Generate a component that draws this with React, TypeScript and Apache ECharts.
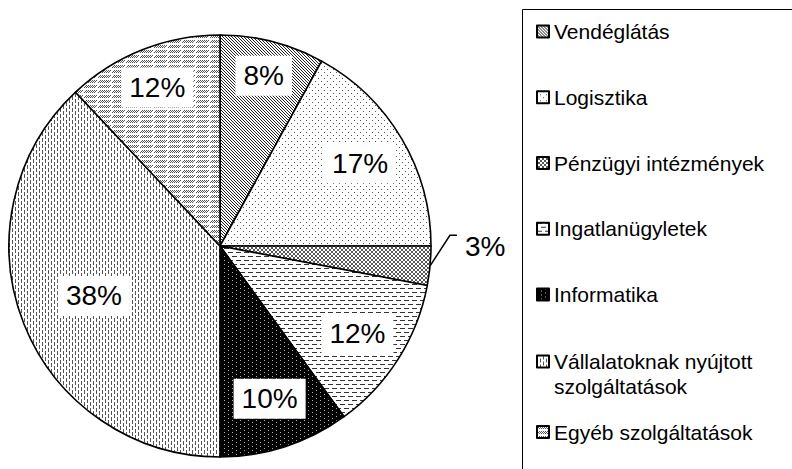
import React, { useEffect, useRef } from 'react';
import * as echarts from 'echarts';

const categories = [
  'Vendéglátás',
  'Logisztika',
  'Pénzügyi intézmények',
  'Ingatlanügyletek',
  'Informatika',
  'Vállalatoknak nyújtott szolgáltatások',
  'Egyéb szolgáltatások',
];
const values = [8, 17, 3, 12, 10, 38, 12];

// styling: how far out (relative to ECharts' default inside position) each label sits
const labelRadiusScale = [1.62, 1.5, 1, 1.5, 1.48, 1.25, 1.57];

const CX = 220;
const CY = 246;
const R = 211;

type On = (x: number, y: number) => boolean;
function tile(w: number, h: number, bg: string, fg: string, on: On) {
  const c = document.createElement('canvas');
  c.width = w;
  c.height = h;
  const ctx = c.getContext('2d')!;
  ctx.fillStyle = bg;
  ctx.fillRect(0, 0, w, h);
  ctx.fillStyle = fg;
  for (let y = 0; y < h; y++) {
    for (let x = 0; x < w; x++) {
      if (on(x, y)) ctx.fillRect(x, y, 1, 1);
    }
  }
  return { image: c, repeat: 'repeat' } as any;
}

function makePatterns() {
  return [
    // Vendéglátás: dense "\" diagonals
    tile(3, 3, '#ffffff', '#222222', (x, y) => (x - y + 3) % 3 === 0),
    // Logisztika: dots
    tile(6, 6, '#ffffff', '#555555', (x, y) => (x === 0 && y === 0) || (x === 3 && y === 3)),
    // Pénzügyi: diagonal crosshatch
    tile(4, 4, '#ffffff', '#555555', (x, y) => x === y || x === 3 - y),
    // Ingatlan: horizontal dashes
    tile(8, 8, '#ffffff', '#333333', (x, y) => (y === 0 && x < 5) || (y === 4 && (x >= 4 || x < 1))),
    // Informatika: black with light dots
    tile(8, 4, '#000000', '#aaaaaa', (x, y) => (x === 0 && y === 0) || (x === 4 && y === 2)),
    // Vállalatoknak: vertical dashes
    tile(6, 6, '#ffffff', '#555555', (x, y) => (x === 0 && y < 4) || (x === 3 && (y >= 3 || y < 1))),
    // Egyéb: horizontal bands of short "/" strokes
    tile(14, 5, '#ffffff', '#555555', (x, y) => {
      if (y > 2) return false;
      for (let k = 0; k < 6; k++) if (x === 2 * k + (2 - y)) return true;
      return false;
    }),
  ];
}

export default function App() {
  const ref = useRef<HTMLDivElement>(null);

  useEffect(() => {
    document.body.style.margin = '0';
    const chart = echarts.init(ref.current!, null, { renderer: 'svg' });
    const patterns = makePatterns();
    const font = 'Liberation Sans, Arial, sans-serif';
    const total = values.reduce((a, b) => a + b, 0);

    const data = categories.map((name, i) => {
      const item: any = {
        name,
        value: values[i],
        itemStyle: { color: patterns[i] },
      };
      if (i === 2) {
        item.label = {
          position: 'outside',
          backgroundColor: 'transparent',
          padding: 0,
        };
        item.labelLine = {
          show: true,
          length: 26,
          length2: 8,
          smooth: false,
          lineStyle: { color: '#000', width: 1.5 },
        };
      }
      return item;
    });

    const legendText = {
      fontFamily: font,
      fontSize: 21,
      color: '#000',
      lineHeight: 25,
    };
    const legendBase = {
      orient: 'vertical',
      left: 536,
      padding: 0,
      icon: 'rect',
      itemWidth: 12,
      itemHeight: 12,
      itemGap: 40.75,
      selectedMode: false,
      textStyle: legendText,
    };

    chart.setOption({
      animation: false,
      backgroundColor: '#fff',
      legend: [
        { ...legendBase, top: 19, data: categories.slice(0, 5) },
        {
          ...legendBase,
          top: 324,
          data: [categories[5]],
          formatter: () => ' \nVállalatoknak nyújtott\nszolgáltatások',
        },
        { ...legendBase, top: 419.5, data: [categories[6]] },
      ],
      graphic: [
        {
          type: 'rect',
          shape: { x: 522.5, y: 9.5, width: 300, height: 500 },
          style: { fill: 'none', stroke: '#000', lineWidth: 1 },
          silent: true,
          z: -1,
        },
      ],
      series: [
        {
          type: 'pie',
          center: [CX, CY],
          radius: [0, R],
          startAngle: 90,
          clockwise: true,
          avoidLabelOverlap: false,
          silent: true,
          itemStyle: { borderColor: '#000', borderWidth: 1.6 },
          label: {
            show: true,
            position: 'inside',
            formatter: (p: any) => p.value + '%',
            fontFamily: font,
            fontSize: 28,
            lineHeight: 28,
            color: '#000',
            backgroundColor: '#fff',
            padding: [6, 8],
          },
          labelLine: { show: false },
          labelLayout: (p: any) => {
            const i = p.dataIndex;
            const r = p.labelRect;
            if (i === 2) {
              // outside label: text to the right, leader rising from the slice's outer edge
              let cum = 0;
              for (let j = 0; j < i; j++) cum += values[j];
              const mid = ((cum + values[i] / 2) / total) * Math.PI * 2;
              const ax = CX + R * Math.sin(mid);
              const ay = CY - R * Math.cos(mid);
              const left = r.x - 4;
              const cy = r.y + r.height / 2 - 22;
              return {
                x: left,
                y: cy,
                align: 'left',
                verticalAlign: 'middle',
                labelLinePoints: [
                  [ax, ay],
                  [left - 15, cy - 11],
                  [left - 8, cy - 11],
                ],
              };
            }
            const lx = r.x + r.width / 2;
            const ly = r.y + r.height / 2;
            const k = labelRadiusScale[i];
            return {
              x: CX + (lx - CX) * k,
              y: CY + (ly - CY) * k,
              align: 'center',
              verticalAlign: 'middle',
            };
          },
          data,
        },
      ],
    });

    return () => chart.dispose();
  }, []);

  return <div ref={ref} style={{ width: 792, height: 469 }} />;
}
